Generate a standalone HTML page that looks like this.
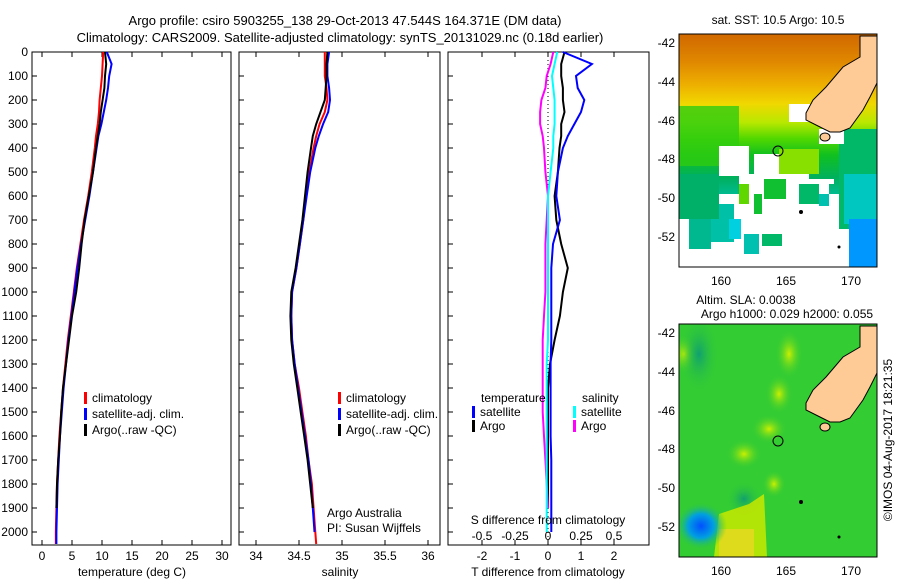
<!DOCTYPE html>
<html><head><meta charset="utf-8"><style>
body{margin:0;background:#fff;}
svg{display:block;font-family:"Liberation Sans",sans-serif;}
text{font-size:12px;fill:#000;}
</style></head><body>
<svg id="fig" width="900" height="580" viewBox="0 0 900 580" xmlns="http://www.w3.org/2000/svg">
<text x="345" y="25" text-anchor="middle" style="font-size:13px">Argo profile: csiro 5903255_138 29-Oct-2013 47.544S 164.371E (DM data)</text>
<text x="340" y="42" text-anchor="middle" style="font-size:13px">Climatology: CARS2009. Satellite-adjusted climatology: synTS_20131029.nc (0.18d earlier)</text>
<g id="charts"></g>

<defs>
<linearGradient id="sstg" x1="0" y1="0" x2="0" y2="1">
<stop offset="0" stop-color="#d06800"/><stop offset="0.12" stop-color="#e08800"/><stop offset="0.22" stop-color="#eeb000"/>
<stop offset="0.3" stop-color="#f0d800"/><stop offset="0.38" stop-color="#b8e800"/><stop offset="0.45" stop-color="#50d800"/>
<stop offset="0.52" stop-color="#10c020"/><stop offset="0.62" stop-color="#00b060"/><stop offset="0.72" stop-color="#00c0a8"/><stop offset="0.82" stop-color="#00c8d0"/><stop offset="1" stop-color="#0090ff"/>
</linearGradient>
<clipPath id="m1c"><rect x="0" y="0" width="198" height="233"/></clipPath>
<clipPath id="m2c"><rect x="0" y="0" width="198" height="233"/></clipPath>
<radialGradient id="blueblob"><stop offset="0" stop-color="#0050ff"/><stop offset="0.5" stop-color="#00a0e0"/><stop offset="1" stop-color="#33cc33" stop-opacity="0"/></radialGradient>
<radialGradient id="ylblob"><stop offset="0" stop-color="#ccf000"/><stop offset="1" stop-color="#33cc33" stop-opacity="0"/></radialGradient>
<radialGradient id="tlblob"><stop offset="0" stop-color="#10a070"/><stop offset="1" stop-color="#33cc33" stop-opacity="0"/></radialGradient>
</defs>
<text x="778" y="24" text-anchor="middle">sat. SST: 10.5 Argo: 10.5</text>
<g transform="translate(679,34)">
<g clip-path="url(#m1c)">
<rect width="198" height="233" fill="url(#sstg)"/>
<rect x="0" y="72" width="60" height="60" fill="#30cc10" opacity="0.8"/>
<rect x="160" y="95" width="38" height="138" fill="#00b868"/>
<rect x="165" y="140" width="33" height="50" fill="#00c8c0"/>
<rect x="170" y="185" width="28" height="48" fill="#0098ff"/>
<path d="M0,185 L40,185 L40,160 L60,160 L60,140 L110,140 L110,120 L130,120 L130,145 L155,145 L155,150 L150,150 L150,160 L160,160 L160,195 L170,195 L170,233 L0,233 Z" fill="#fff"/>
<rect x="40" y="112" width="30" height="30" fill="#fff"/>
<rect x="75" y="120" width="30" height="20" fill="#fff"/>
<rect x="110" y="70" width="25" height="18" fill="#fff"/>
<rect x="140" y="95" width="25" height="15" fill="#fff"/>
<rect x="85" y="145" width="22" height="20" fill="#10c030"/>
<rect x="60" y="150" width="10" height="20" fill="#60d800"/>
<rect x="75" y="160" width="8" height="20" fill="#10c030"/>
<rect x="25" y="170" width="30" height="38" fill="#00c0a8"/>
<rect x="0" y="140" width="40" height="45" fill="#00b068"/>
<rect x="10" y="185" width="22" height="30" fill="#00b890"/>
<rect x="65" y="200" width="15" height="20" fill="#00c0b0"/>
<rect x="50" y="185" width="12" height="20" fill="#00d0e0"/>
<rect x="83" y="200" width="20" height="12" fill="#00b868"/>
<rect x="140" y="160" width="10" height="12" fill="#00c0b0"/>
<rect x="120" y="150" width="20" height="20" fill="#00b868"/>
<rect x="100" y="115" width="40" height="25" fill="#88e000"/>
<path d="M198,2 L181,2 L181,23 L164,33 L147,53 L134,66 L127,79 L127,86 L141,93 L151,98 L161,98 L171,94 L184,76 L191,63 L198,49 Z" fill="#fecb96" stroke="#000" stroke-width="1"/>
<ellipse cx="146" cy="103" rx="5" ry="4" fill="#fecb96" stroke="#000"/>
<circle cx="99" cy="117" r="5" fill="none" stroke="#000" stroke-width="1"/>
<circle cx="122" cy="178" r="2" fill="#000"/><circle cx="160" cy="213" r="1.5" fill="#000"/>
</g>
<rect width="198" height="233" fill="none" stroke="#000"/>
</g>
<g>
<text x="675" y="47" text-anchor="end">-42</text><text x="675" y="86" text-anchor="end">-44</text><text x="675" y="125" text-anchor="end">-46</text>
<text x="675" y="163" text-anchor="end">-48</text><text x="675" y="202" text-anchor="end">-50</text><text x="675" y="241" text-anchor="end">-52</text>
<text x="721" y="285" text-anchor="middle">160</text><text x="786" y="285" text-anchor="middle">165</text><text x="851" y="285" text-anchor="middle">170</text>
</g>

<text x="746" y="304" text-anchor="middle">Altim. SLA: 0.0038</text>
<text x="787" y="318" text-anchor="middle">Argo h1000: 0.029 h2000: 0.055</text>
<g transform="translate(679,324)">
<g clip-path="url(#m2c)">
<rect width="198" height="233" fill="#33cc33"/>
<ellipse cx="100" cy="70" rx="14" ry="20" fill="url(#ylblob)"/>
<ellipse cx="5" cy="30" rx="14" ry="20" fill="url(#ylblob)"/>
<ellipse cx="110" cy="30" rx="14" ry="25" fill="url(#ylblob)"/>
<ellipse cx="90" cy="105" rx="18" ry="15" fill="url(#ylblob)"/>
<ellipse cx="65" cy="130" rx="18" ry="15" fill="url(#ylblob)"/>
<ellipse cx="95" cy="160" rx="12" ry="14" fill="url(#ylblob)"/>
<ellipse cx="65" cy="175" rx="18" ry="18" fill="url(#tlblob)"/>
<ellipse cx="20" cy="30" rx="20" ry="40" fill="url(#tlblob)"/>
<path d="M35,233 L40,190 L70,180 L85,170 L88,233 Z" fill="#c8e800" opacity="0.85"/>
<rect x="40" y="205" width="35" height="28" fill="#e8d820" opacity="0.8"/>
<ellipse cx="22" cy="202" rx="26" ry="24" fill="url(#blueblob)"/>
<path d="M198,2 L181,2 L181,23 L164,33 L147,53 L134,66 L127,79 L127,86 L141,93 L151,98 L161,98 L171,94 L184,76 L191,63 L198,49 Z" fill="#fecb96" stroke="#000" stroke-width="1"/>
<ellipse cx="146" cy="103" rx="5" ry="4" fill="#fecb96" stroke="#000"/>
<circle cx="99" cy="117" r="5" fill="none" stroke="#000" stroke-width="1"/>
<circle cx="122" cy="178" r="2" fill="#000"/><circle cx="160" cy="213" r="1.5" fill="#000"/>
</g>
<rect width="198" height="233" fill="none" stroke="#000"/>
</g>
<g>
<text x="675" y="337" text-anchor="end">-42</text><text x="675" y="376" text-anchor="end">-44</text><text x="675" y="415" text-anchor="end">-46</text>
<text x="675" y="453" text-anchor="end">-48</text><text x="675" y="492" text-anchor="end">-50</text><text x="675" y="531" text-anchor="end">-52</text>
<text x="721" y="575" text-anchor="middle">160</text><text x="786" y="575" text-anchor="middle">165</text><text x="851" y="575" text-anchor="middle">170</text>
</g>
<text transform="translate(892,440) rotate(-90)" text-anchor="middle">©IMOS 04-Aug-2017 18:21:35</text>
</svg>
<script>
const depths = [0,50,100,150,200,250,300,350,400,500,600,700,800,900,1000,1100,1200,1300,1400,1500,1600,1700,1800,1900,2000,2050];
const tClim = [10.2,10.1,10.0,9.8,9.6,9.5,9.3,9.0,8.8,8.3,7.7,7.0,6.4,5.8,5.3,4.8,4.3,3.9,3.5,3.2,2.9,2.7,2.5,2.4,2.3,2.3];
const tSat = [10.8,11.6,11.2,11.0,10.7,10.3,9.9,9.4,9.1,8.5,7.9,7.2,6.5,5.9,5.4,4.9,4.4,4.0,3.6,3.3,3.0,2.8,2.6,2.5,2.4,2.4];
const tArgo = [10.5,10.7,10.5,10.4,10.1,9.8,9.6,9.3,9.0,8.5,7.8,7.1,6.6,6.2,5.7,5.0,4.5,4.0,3.5,3.2,3.0,2.7,2.5,2.4,null,null];
const sClim = [34.80,34.80,34.80,34.82,34.83,34.80,34.74,34.70,34.67,34.62,34.58,34.55,34.51,34.47,34.42,34.41,34.42,34.45,34.50,34.54,34.58,34.61,34.65,34.67,34.69,34.70];
const sSat = [34.85,34.83,34.83,34.85,34.86,34.84,34.78,34.73,34.69,34.63,34.59,34.55,34.51,34.47,34.42,34.41,34.42,34.45,34.49,34.53,34.57,34.61,34.64,34.66,34.68,null];
const sArgo = [34.83,34.82,34.82,34.81,34.80,34.75,34.70,34.66,34.64,34.60,34.57,34.54,34.50,34.46,34.41,34.40,34.41,34.44,34.48,34.52,34.56,34.60,34.63,34.66,null,null];
const dTSat = [0.45,1.33,0.85,0.9,1.1,1.0,0.8,0.6,0.45,0.3,0.25,0.36,0.15,0.1,0.1,0.1,0.1,0.08,0.08,0.08,0.08,0.1,0.1,0.1,0.1,null];
const dTArgo = [0.5,0.4,0.4,0.45,0.45,0.5,0.4,0.4,0.35,0.3,0.2,0.25,0.4,0.6,0.45,0.36,0.2,0.06,0,0,0,0,0,0,null,null];
const dSSat = [0.07,0.05,0.03,0.04,0.05,0.05,0.05,0.04,0.04,0.02,0,0,0,0,0,0,0,-0.01,-0.01,-0.01,-0.01,-0.01,-0.01,-0.01,-0.01,null];
const dSArgo = [0.04,0.02,-0.01,-0.02,-0.05,-0.06,-0.06,-0.04,-0.03,-0.02,0,-0.01,-0.02,-0.02,-0.02,-0.03,-0.04,-0.04,-0.04,-0.04,-0.03,-0.02,-0.01,0,null,null];
const depthTicks = [0,100,200,300,400,500,600,700,800,900,1000,1100,1200,1300,1400,1500,1600,1700,1800,1900,2000];
const tTicks = [0,5,10,15,20,25,30];
const sTicks = [34,34.5,35,35.5,36];
const sTickLabels = ["34","34.5","35","35.5","36"];
const dTTicks = [-2,-1,0,1,2];
const dSTicks = [-0.5,-0.25,0,0.25,0.5];
const dSTickLabels = ["-0.5","-0.25","0","0.25","0.5"];

const NS='http://www.w3.org/2000/svg';
const g=document.getElementById('charts');
const TOP=52, BOT=545;
const yD = d => 52 + d*0.24;
const xT = v => 42 + v*6;
const xS = v => 256 + (v-34)*86;
const xDT = v => 548 + v*33;
const xDS = v => 548 + v*132;
function mk(tag, attrs, txt){const e=document.createElementNS(NS,tag);for(const k in attrs)e.setAttribute(k,attrs[k]);if(txt!==undefined)e.textContent=txt;g.appendChild(e);return e;}
function panel(x0,x1,name){
  const r=mk('rect',{x:x0,y:TOP,width:x1-x0,height:BOT-TOP,fill:'none',stroke:'#000','stroke-width':1});
  
  
  depthTicks.forEach(d=>{mk('line',{x1:x0,x2:x0+5,y1:yD(d),y2:yD(d),stroke:'#000'});});
}
function xticks(arr,fx,labels,y,name){
  arr.forEach((v,i)=>{
    mk('line',{x1:fx(v),x2:fx(v),y1:BOT,y2:BOT-5,stroke:'#000'});
    mk('line',{x1:fx(v),x2:fx(v),y1:TOP,y2:TOP+5,stroke:'#000'});
    const t=mk('text',{x:fx(v),y:y,'text-anchor':'middle'},labels[i]);
    
    
  });
}
function line(vals,fx,color,name){
  let pts=[];
  vals.forEach((v,i)=>{if(v!==null)pts.push(fx(v).toFixed(1)+','+yD(depths[i]).toFixed(1));});
  const p=mk('polyline',{points:pts.join(' '),fill:'none',stroke:color,'stroke-width':2});
  
  
}
function leg(x,y,color,label,name){
  mk('rect',{x:x,y:y-10,width:3,height:12,fill:color});
  const t=mk('text',{x:x+8,y:y},label);
  
  
}
depthTicks.forEach(d=>{
  const t=mk('text',{x:28,y:yD(d)+4,'text-anchor':'end'},String(d));
  
  
});
panel(32,231,'temperature-panel');
xticks(tTicks,xT,tTicks.map(String),560,'temperature-tick-label');
line(tClim,xT,'#ff0000','temp-climatology-line');
line(tSat,xT,'#0000ff','temp-satellite-line');
line(tArgo,xT,'#000000','temp-argo-line');
mk('text',{x:132,y:576,'text-anchor':'middle'},'temperature (deg C)');
leg(84,402,'#ff0000','climatology','legend-climatology');
leg(84,418,'#0000ff','satellite-adj. clim.','legend-satellite');
leg(84,434,'#000000','Argo(..raw -QC)','legend-argo');
panel(239,440,'salinity-panel');
xticks(sTicks,xS,sTickLabels,560,'salinity-tick-label');
line(sClim,xS,'#ff0000','sal-climatology-line');
line(sSat,xS,'#0000ff','sal-satellite-line');
line(sArgo,xS,'#000000','sal-argo-line');
mk('text',{x:340,y:576,'text-anchor':'middle'},'salinity');
leg(338,402,'#ff0000','climatology','legend-climatology-2');
leg(338,418,'#0000ff','satellite-adj. clim.','legend-satellite-2');
leg(338,434,'#000000','Argo(..raw -QC)','legend-argo-2');
mk('text',{x:327,y:517},'Argo Australia');
mk('text',{x:327,y:532},'PI: Susan Wijffels');
panel(448,649,'difference-panel');
mk('line',{x1:548,x2:548,y1:TOP,y2:BOT,stroke:'#000','stroke-dasharray':'1,3'});
xticks(dTTicks,xDT,dTTicks.map(String),560,'tdiff-tick-label');
dSTicks.forEach((v,i)=>{const t=mk('text',{x:xDS(v),y:540,'text-anchor':'middle'},dSTickLabels[i]);});
line(dTArgo,xDT,'#000000','tdiff-argo-line');
line(dTSat,xDT,'#0000ff','tdiff-satellite-line');
line(dSArgo,xDS,'#ff00ff','sdiff-argo-line');
line(dSSat,xDS,'#00ffff','sdiff-satellite-line');
mk('text',{x:548,y:576,'text-anchor':'middle'},'T difference from climatology');
mk('text',{x:548,y:524,'text-anchor':'middle'},'S difference from climatology');
mk('text',{x:481,y:402},'temperature');
mk('text',{x:582,y:402},'salinity');
leg(472,416,'#0000ff','satellite','legend-tdiff-satellite');
leg(472,430,'#000000','Argo','legend-tdiff-argo');
leg(573,416,'#00ffff','satellite','legend-sdiff-satellite');
leg(573,430,'#ff00ff','Argo','legend-sdiff-argo');
</script>
</body></html>
